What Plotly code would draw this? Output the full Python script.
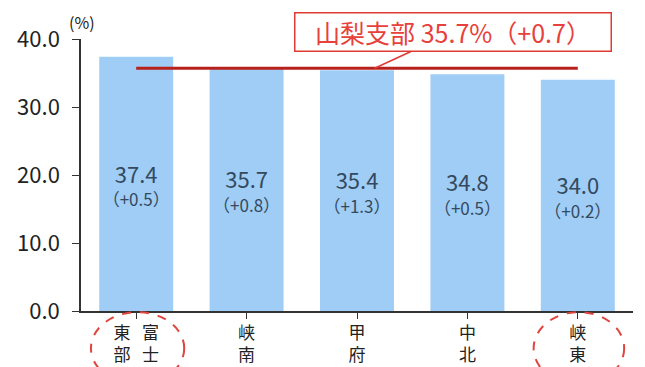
import plotly.graph_objects as go

categories = ["東&nbsp;&nbsp;&nbsp;富<br>部&nbsp;&nbsp;&nbsp;士", "峡<br>南", "甲<br>府", "中<br>北", "峡<br>東"]
values = [37.4, 35.7, 35.4, 34.8, 34.0]
changes = ["+0.5", "+0.8", "+1.3", "+0.5", "+0.2"]
branch_value = 35.7
branch_change = "+0.7"
y_ticks = [0, 10, 20, 30, 40]

FONT = "Noto Sans CJK JP"
texts = [f"<span style='font-size:22px'>{v:.1f}</span><br><span style='font-size:17px'>（{c}）</span>"
         for v, c in zip(values, changes)]

fig = go.Figure()
fig.add_trace(go.Bar(
    x=list(range(len(categories))), y=values, width=0.67,
    marker=dict(color="#9fcdf5", line=dict(width=0)),
    text=texts, textposition="inside", insidetextanchor="middle",
    textfont=dict(family=FONT, color="#34495e", size=18),
    textangle=0, hoverinfo="skip",
))

# branch average line
fig.add_shape(type="line", xref="x", yref="y", x0=0, x1=len(categories) - 1,
              y0=branch_value, y1=branch_value,
              line=dict(color="#b8201c", width=3))

fig.add_annotation(
    x=2.16, y=branch_value, xref="x", yref="y",
    text=f"山梨支部 {branch_value}%（{branch_change}）",
    showarrow=True, arrowhead=0, arrowcolor="#e03a34", arrowwidth=1.5,
    ax=78, ay=-36,
    font=dict(family=FONT, size=25, color="#e8403a"),
    bgcolor="white", bordercolor="#e03a34", borderwidth=1.5, borderpad=3,
    width=309, height=31,
)

fig.add_annotation(x=0, y=1, xref="paper", yref="paper", text="(%)",
                   showarrow=False, xanchor="center", yanchor="middle",
                   xshift=1, yshift=17, font=dict(family=FONT, size=16, color="#222"))

# dashed ellipses around first and last labels
for x0, x1 in [(-0.41, 0.435), (3.60, 4.42)]:
    fig.add_shape(type="circle", xref="x", yref="paper", x0=x0, x1=x1,
                  y0=-0.27, y1=-0.004,
                  line=dict(color="#e0443e", width=2, dash="dash"))

fig.update_layout(
    width=637, height=359,
    margin=dict(l=73, r=12, t=31, b=56),
    paper_bgcolor="white", plot_bgcolor="white",
    showlegend=False,
    font=dict(family=FONT, color="#222"),
)
fig.update_xaxes(
    tickmode="array", tickvals=list(range(len(categories))), ticktext=categories,
    range=[-0.5, len(categories) - 0.5], automargin=False,
    showline=True, linecolor="#333", linewidth=1.5,
    ticks="outside", tickson="boundaries", ticklen=6, tickcolor="#333",
    tickfont=dict(family=FONT, size=17, color="#222"),
    showgrid=False,
)
fig.update_yaxes(
    range=[0, 40], tickvals=y_ticks, tickformat=".1f", automargin=False,
    showline=True, linecolor="#333", linewidth=1.5,
    ticks="outside", ticklen=7, tickcolor="#333", ticklabelstandoff=8,
    tickfont=dict(family=FONT, size=22, color="#222"),
    showgrid=False, zeroline=False,
)

fig.write_html("out.html")
